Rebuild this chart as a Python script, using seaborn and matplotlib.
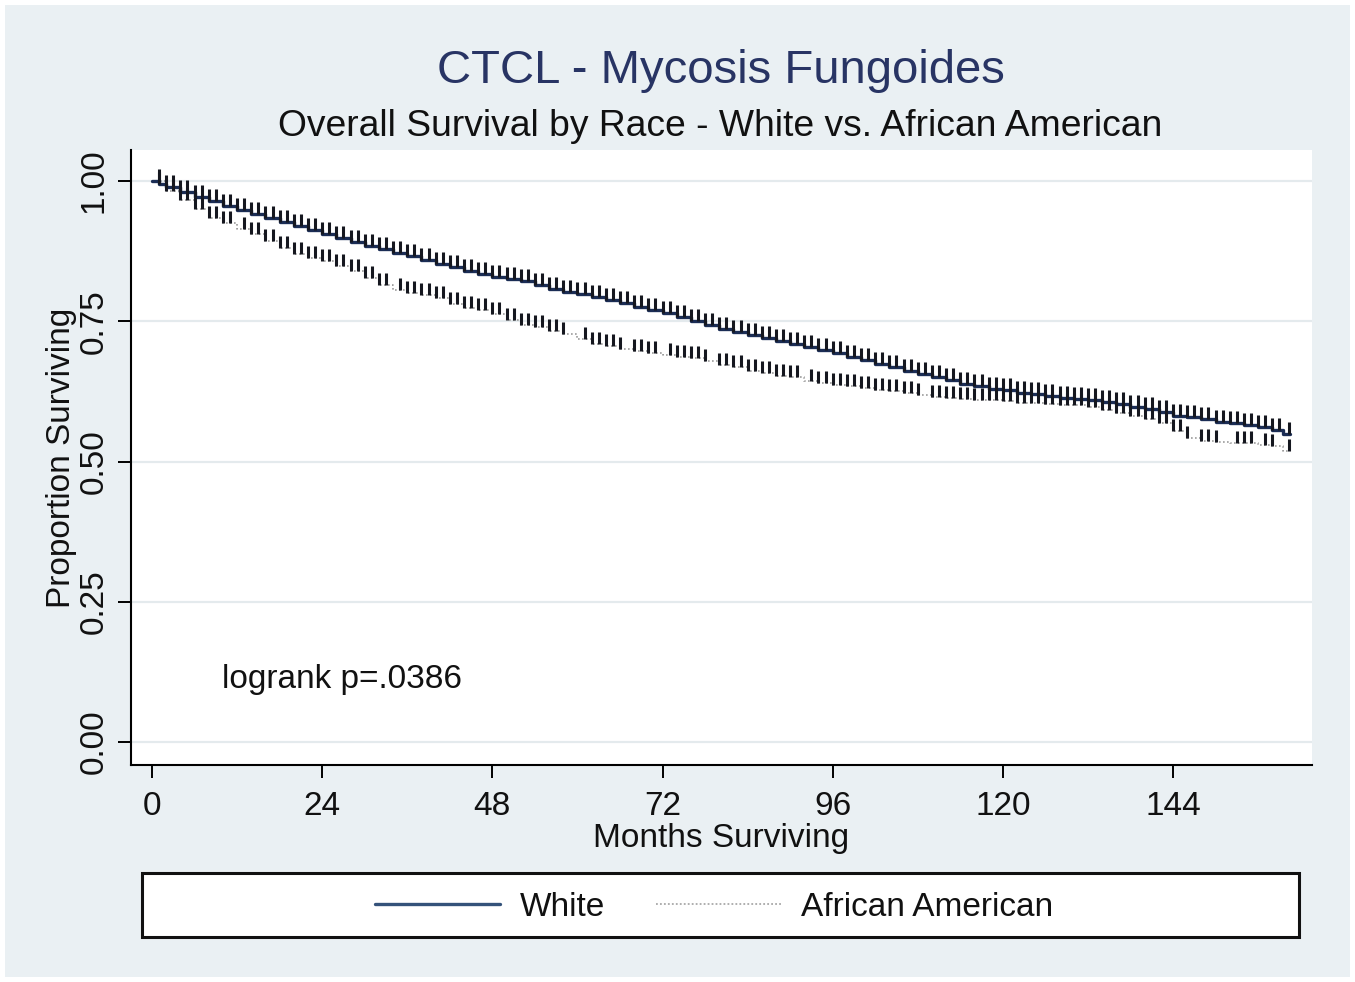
import numpy as np
import pandas as pd
import matplotlib
matplotlib.use("Agg")
import matplotlib.pyplot as plt
import seaborn as sns
from matplotlib.path import Path
from matplotlib.patches import Rectangle
from matplotlib.lines import Line2D

# ---------------- data ----------------
white_months = [0, 1, 2, 4, 6, 8, 10, 12, 14, 16, 18, 20, 22, 24, 26, 28, 30, 32, 34, 36,
                38, 40, 42, 44, 46, 48, 50, 52, 54, 56, 58, 60, 62, 64, 66, 68, 70, 72, 74,
                76, 78, 80, 82, 84, 86, 88, 90, 92, 94, 96, 98, 100, 102, 104, 106, 108,
                110, 112, 114, 116, 118, 120, 122, 124, 126, 128, 130, 132, 134, 136, 138,
                140, 142, 144, 146, 148, 150, 152, 154, 156, 158, 159.5, 160.5]
white_surv = [1.000, 0.995, 0.990, 0.981, 0.972, 0.964, 0.956, 0.948, 0.941, 0.934, 0.927,
              0.920, 0.913, 0.906, 0.899, 0.892, 0.885, 0.879, 0.872, 0.866, 0.859, 0.852,
              0.846, 0.840, 0.834, 0.829, 0.825, 0.821, 0.815, 0.808, 0.803, 0.798, 0.793,
              0.788, 0.782, 0.776, 0.770, 0.764, 0.757, 0.751, 0.744, 0.737, 0.731, 0.726,
              0.720, 0.714, 0.709, 0.704, 0.698, 0.693, 0.687, 0.681, 0.674, 0.668, 0.662,
              0.656, 0.650, 0.645, 0.639, 0.634, 0.630, 0.627, 0.623, 0.620, 0.616, 0.613,
              0.611, 0.609, 0.606, 0.602, 0.598, 0.593, 0.588, 0.582, 0.579, 0.575, 0.571,
              0.568, 0.565, 0.561, 0.556, 0.549, 0.549]

aa_months = [0, 2, 4, 6, 8, 10, 12, 14, 16, 18, 20, 22, 24, 26, 28, 30, 32, 34, 36, 38,
             40, 42, 44, 46, 48, 50, 52, 54, 56, 58, 60, 62, 64, 66, 68, 70, 72, 74, 76,
             78, 80, 82, 84, 86, 88, 90, 92, 94, 96, 98, 100, 102, 104, 106, 108, 110,
             112, 114, 116, 118, 120, 122, 124, 126, 128, 130, 132, 134, 136, 138, 140,
             142, 144, 146, 148, 150, 152, 154, 156, 158, 159.5, 160.5]
aa_surv = [1.000, 0.982, 0.966, 0.950, 0.934, 0.926, 0.915, 0.905, 0.893, 0.880, 0.870,
           0.862, 0.857, 0.849, 0.840, 0.828, 0.814, 0.806, 0.801, 0.796, 0.791, 0.781,
           0.774, 0.770, 0.763, 0.752, 0.743, 0.739, 0.733, 0.727, 0.718, 0.710, 0.706,
           0.700, 0.697, 0.694, 0.690, 0.687, 0.684, 0.679, 0.672, 0.668, 0.662, 0.658,
           0.653, 0.650, 0.643, 0.640, 0.637, 0.634, 0.631, 0.628, 0.626, 0.622, 0.618,
           0.615, 0.613, 0.611, 0.610, 0.609, 0.607, 0.605, 0.604, 0.603, 0.601, 0.600,
           0.598, 0.592, 0.586, 0.582, 0.576, 0.568, 0.555, 0.542, 0.537, 0.535, 0.533,
           0.533, 0.530, 0.527, 0.518, 0.518]

white_censor = [1, 2, 3, 4, 5, 6, 7, 8, 9, 10, 11, 12, 13, 14, 15, 16, 17, 18, 19, 20,
                21, 22, 23, 24, 25, 26, 27, 28, 29, 30, 31, 32, 33, 34, 35, 36, 37, 38, 39,
                40, 41, 42, 43, 44, 45, 46, 47, 48, 49, 50, 51, 52, 53, 54, 55, 56, 57, 58,
                59, 60, 61, 62, 63, 64, 65, 66, 67, 68, 69, 70, 71, 72, 73, 74, 75, 76, 77,
                78, 79, 80, 81, 82, 83, 84, 85, 86, 87, 88, 89, 90, 91, 92, 93, 94, 95, 96,
                97, 98, 99, 100, 101, 102, 103, 104, 105, 106, 107, 108, 109, 110, 111, 112,
                113, 114, 115, 116, 117, 118, 119, 120, 121, 122, 123, 124, 125, 126, 127,
                128, 129, 130, 131, 132, 133, 134, 135, 136, 137, 138, 139, 140, 141, 142,
                143, 144, 145, 146, 147, 148, 149, 150, 151, 152, 153, 154, 155, 156, 157,
                158, 159, 160.4]
aa_censor = [1, 2, 3, 4, 5, 6, 7, 8, 9, 10, 11, 13, 14, 15, 16, 17, 18, 19, 20, 21, 22,
             23, 24, 25, 26, 27, 28, 29, 30, 31, 32, 33, 35, 36, 37, 38, 39, 40, 41, 42,
             43, 44, 45, 46, 47, 48, 49, 50, 51, 52, 53, 54, 55, 56, 57, 58, 61, 62, 63,
             64, 65, 66, 68, 69, 70, 71, 73, 74, 75, 76, 77, 78, 80, 81, 82, 83, 84, 85,
             86, 87, 88, 89, 90, 91, 93, 94, 95, 96, 97, 98, 99, 100, 101, 102, 103, 104,
             105, 106, 107, 108, 110, 111, 112, 113, 114, 115, 116, 117, 118, 119, 120,
             121, 122, 123, 124, 125, 126, 127, 128, 129, 130, 131, 132, 133, 134, 135,
             136, 137, 138, 139, 140, 141, 142, 143, 144, 145, 146, 148, 149, 150, 153,
             154, 155, 157, 158, 160.4]

x_ticks = [0, 24, 48, 72, 96, 120, 144]
y_ticks = [0.00, 0.25, 0.50, 0.75, 1.00]
y_tick_labels = ["0.00", "0.25", "0.50", "0.75", "1.00"]
series_labels = ["White", "African American"]
title_text = "CTCL - Mycosis Fungoides"
subtitle_text = "Overall Survival by Race - White vs. African American"
x_label = "Months Surviving"
y_label = "Proportion Surviving"
note_text = "logrank p=.0386"
note_pos = (9.9, 0.112)


def step_value(months, surv, t):
    months = np.asarray(months, dtype=float)
    surv = np.asarray(surv, dtype=float)
    idx = np.searchsorted(months, np.asarray(t, dtype=float), side="right") - 1
    idx = np.clip(idx, 0, len(surv) - 1)
    return surv[idx]


white_df = pd.DataFrame({"month": white_months, "surv": white_surv})
aa_df = pd.DataFrame({"month": aa_months, "surv": aa_surv})
white_cens_df = pd.DataFrame({"month": white_censor,
                              "surv": step_value(white_months, white_surv, white_censor)})
aa_cens_df = pd.DataFrame({"month": aa_censor,
                           "surv": step_value(aa_months, aa_surv, aa_censor)})

# ---------------- style ----------------
sns.set_theme(style="white")
plt.rcParams["font.family"] = ["Liberation Sans", "DejaVu Sans"]

W, H = 1355, 982
BG = "#eaf0f3"
NAVY = "#1b2d55"
TICKCOL = "#15171f"

fig = plt.figure(figsize=(W / 100, H / 100), dpi=100, facecolor="white")
fig.patches.append(Rectangle((5 / W, 5 / H), (W - 10) / W, (H - 10) / H,
                             transform=fig.transFigure, facecolor=BG,
                             edgecolor="none", zorder=-10))

ax = fig.add_axes([131 / W, 1 - 765 / H, (1312 - 131) / W, (765 - 150) / H])
ax.set_facecolor("white")

# curves
sns.lineplot(data=aa_df, x="month", y="surv", ax=ax, estimator=None, sort=False,
             drawstyle="steps-post", color="#9c9c9c", linewidth=1.2,
             linestyle=(0, (1, 1.4)), zorder=3)
sns.lineplot(data=white_df, x="month", y="surv", ax=ax, estimator=None, sort=False,
             drawstyle="steps-post", color=NAVY, linewidth=2.4, zorder=4)

# censor ticks (pointing upward from the curve, Stata style)
tick_marker = Path([(0, 0), (0, 1)])
sns.scatterplot(data=aa_cens_df, x="month", y="surv", ax=ax, marker=tick_marker,
                s=280, linewidth=2.2, color=TICKCOL, edgecolor=TICKCOL, zorder=5)
sns.scatterplot(data=white_cens_df, x="month", y="surv", ax=ax, marker=tick_marker,
                s=280, linewidth=2.2, color=TICKCOL, edgecolor=TICKCOL, zorder=6)

ax.set_xlim(-2.96, 163.6)
ax.set_ylim(-0.041, 1.0553)

ax.set_xticks(x_ticks)
ax.set_xticklabels([str(v) for v in x_ticks])
ax.set_yticks(y_ticks)
ax.set_yticklabels(y_tick_labels, rotation=90, va="center")

ax.tick_params(axis="both", which="major", direction="out", length=9.5, width=1.4,
               color="black", labelsize=24, labelcolor="#111111",
               left=True, bottom=True)
ax.tick_params(axis="x", pad=9)
ax.tick_params(axis="y", pad=6)

ax.yaxis.grid(True, color="#e4eaed", linewidth=1.6)
ax.xaxis.grid(False)
ax.set_axisbelow(True)

for side in ("top", "right"):
    ax.spines[side].set_visible(False)
for side in ("left", "bottom"):
    ax.spines[side].set_visible(True)
    ax.spines[side].set_color("black")
    ax.spines[side].set_linewidth(1.5)

ax.set_xlabel(x_label, fontsize=24, color="#111111")
ax.xaxis.set_label_coords(0.5, (765 - 838) / 615)
ax.xaxis.label.set_va("center")
ax.set_ylabel(y_label, fontsize=24, color="#111111")
ax.yaxis.set_label_coords((62 - 131) / 1181, 0.5)
ax.yaxis.label.set_va("center")

ax.text(note_pos[0], note_pos[1], note_text, fontsize=24, color="#111111",
        ha="left", va="center")

# titles
fig.text(721 / W, 1 - 71 / H, title_text, fontsize=34, color="#283464",
         ha="center", va="center")
fig.text(720 / W, 1 - 126 / H, subtitle_text, fontsize=26.8, color="#111111",
         ha="center", va="center")

# legend box
fig.patches.append(Rectangle((142 / W, 1 - 937 / H), (1299 - 142) / W, (937 - 873) / H,
                             transform=fig.transFigure, facecolor="white",
                             edgecolor="#111111", linewidth=2.2, zorder=1))
handles = [Line2D([], [], color="#34527a", linewidth=2.4),
           Line2D([], [], color="#a8a8a8", linewidth=1.3, linestyle=(0, (1, 1.2)))]
leg = fig.legend(handles, series_labels, loc="center",
                 bbox_to_anchor=(714 / W, 1 - 907 / H), ncol=2, frameon=False,
                 fontsize=24, handlelength=3.75, handletextpad=0.6,
                 columnspacing=1.5)
for t in leg.get_texts():
    t.set_color("#111111")
leg.set_zorder(2)

fig.savefig("out.png", dpi=100, facecolor=fig.get_facecolor())
